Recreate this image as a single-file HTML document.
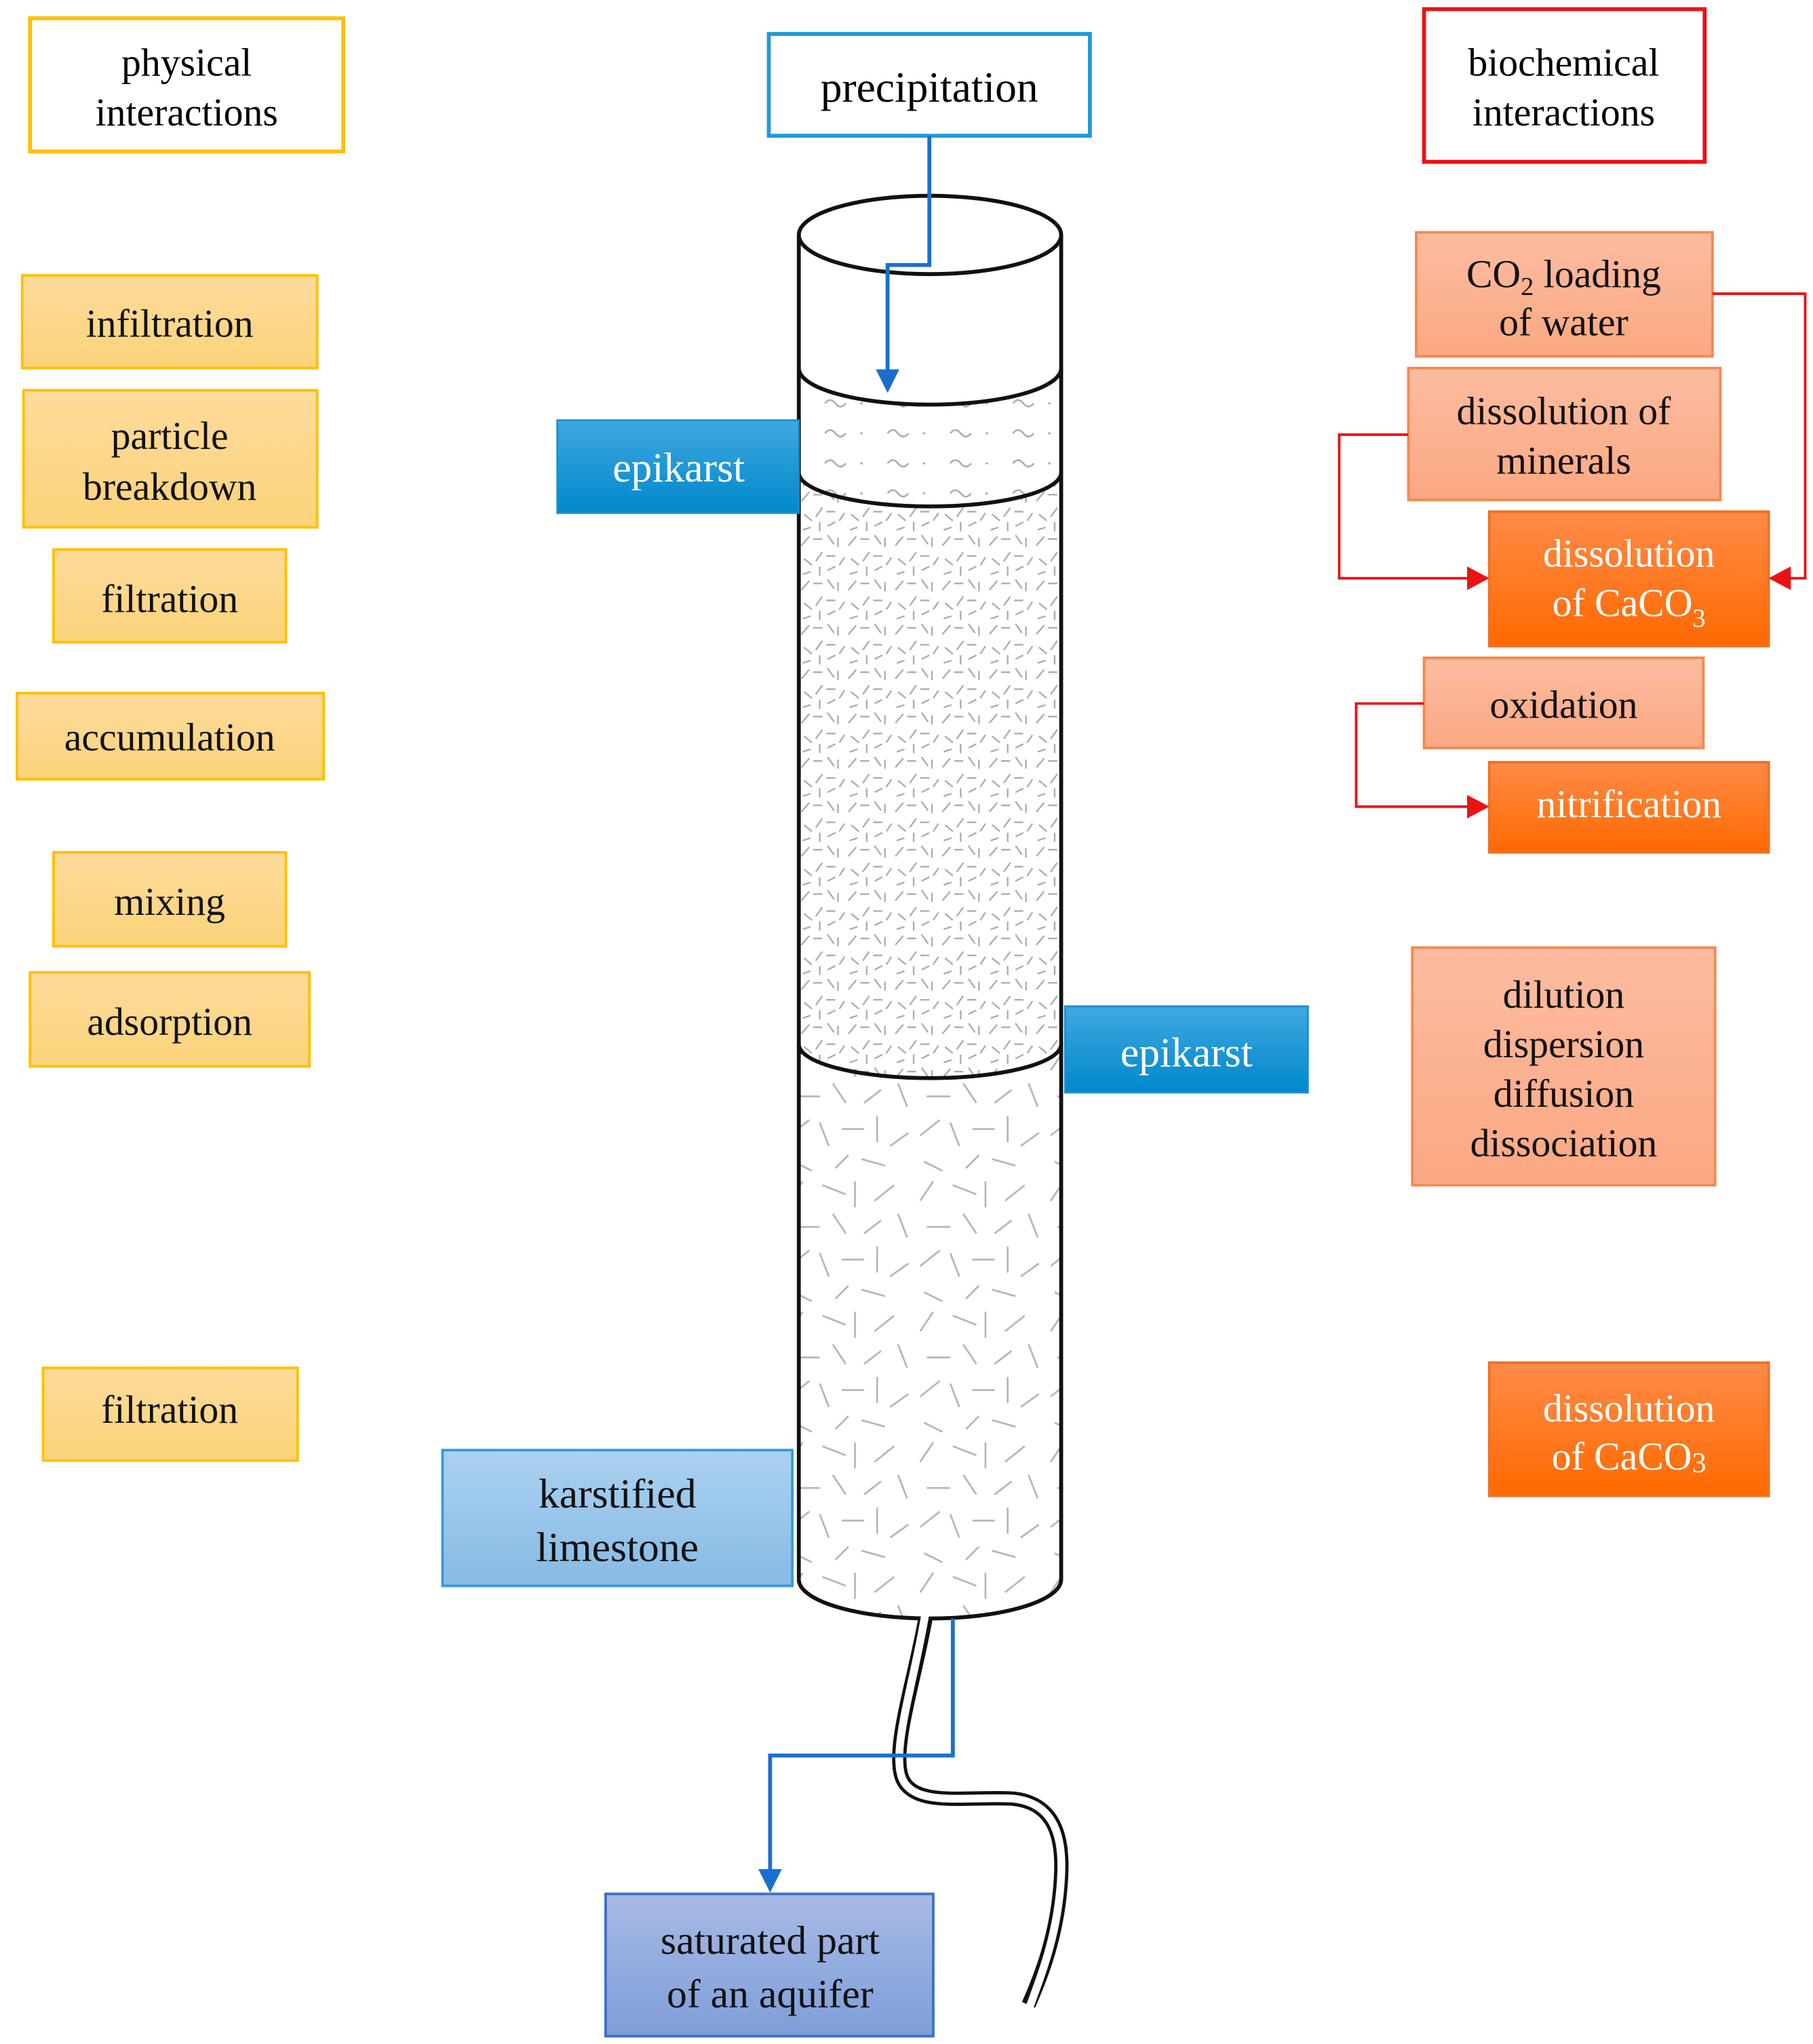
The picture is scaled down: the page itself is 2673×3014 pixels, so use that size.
<!DOCTYPE html>
<html><head><meta charset="utf-8"><style>
html,body{margin:0;padding:0;background:#fff}
svg{display:block}
text{font-family:"Liberation Serif",serif;text-anchor:middle}
</style></head><body>
<svg width="2673" height="3014" viewBox="0 0 1389 1566" preserveAspectRatio="none" xmlns="http://www.w3.org/2000/svg">
<defs>
<linearGradient id="gy" x1="0" y1="0" x2="0" y2="1"><stop offset="0" stop-color="#FDDB9C"/><stop offset="1" stop-color="#FCD379"/></linearGradient>
<linearGradient id="gs" x1="0" y1="0" x2="0" y2="1"><stop offset="0" stop-color="#FCBCA0"/><stop offset="1" stop-color="#FBA882"/></linearGradient>
<linearGradient id="go" x1="0" y1="0" x2="0" y2="1"><stop offset="0" stop-color="#FF8B48"/><stop offset="1" stop-color="#FF6900"/></linearGradient>
<linearGradient id="gb" x1="0" y1="0" x2="0" y2="1"><stop offset="0" stop-color="#40A8E0"/><stop offset="1" stop-color="#0088CC"/></linearGradient>
<linearGradient id="gk" x1="0" y1="0" x2="0" y2="1"><stop offset="0" stop-color="#AAD1EF"/><stop offset="1" stop-color="#86BBE5"/></linearGradient>
<linearGradient id="ga" x1="0" y1="0" x2="0" y2="1"><stop offset="0" stop-color="#A8BAE4"/><stop offset="1" stop-color="#7E9ED9"/></linearGradient>
<pattern id="pf" width="36" height="34" patternUnits="userSpaceOnUse">
<g stroke="#aaa" stroke-width="1.2" fill="none">
<line x1="2" y1="10" x2="8" y2="3"/><line x1="11" y1="5" x2="18" y2="5"/><line x1="22" y1="2" x2="27" y2="9"/><line x1="30" y1="4" x2="30" y2="11"/>
<line x1="4" y1="20" x2="10" y2="25"/><line x1="13" y1="22" x2="18" y2="15"/><line x1="21" y1="18" x2="28" y2="18"/><line x1="31" y1="25" x2="35" y2="19"/>
<line x1="3" y1="32" x2="9" y2="30"/><line x1="16" y1="26" x2="16" y2="33"/><line x1="22" y1="29" x2="28" y2="26"/>
</g></pattern>
<pattern id="pc" width="100" height="100" patternUnits="userSpaceOnUse">
<g stroke="#b5b5b5" stroke-width="1.4" fill="none">
<line x1="5" y1="20" x2="15" y2="5"/><line x1="30" y1="8" x2="48" y2="15"/><line x1="55" y1="5" x2="55" y2="25"/><line x1="70" y1="20" x2="85" y2="8"/>
<line x1="10" y1="40" x2="28" y2="40"/><line x1="38" y1="30" x2="48" y2="45"/><line x1="62" y1="45" x2="75" y2="35"/><line x1="88" y1="30" x2="95" y2="48"/>
<line x1="5" y1="70" x2="20" y2="58"/><line x1="28" y1="60" x2="35" y2="78"/><line x1="45" y1="65" x2="62" y2="65"/><line x1="72" y1="55" x2="72" y2="75"/><line x1="82" y1="78" x2="96" y2="68"/>
<line x1="8" y1="90" x2="22" y2="97"/><line x1="40" y1="95" x2="50" y2="85"/><line x1="60" y1="88" x2="78" y2="93"/>
</g></pattern>
<pattern id="pw" width="48" height="23" patternUnits="userSpaceOnUse">
<path d="M8,10 q4,-5 8,0 t8,0" stroke="#aaa" stroke-width="1.3" fill="none"/><circle cx="36" cy="10" r="0.9" fill="#aaa"/>
</pattern>
<marker id="ab" markerWidth="10" markerHeight="10" refX="5" refY="9" orient="auto" markerUnits="userSpaceOnUse"/>
</defs>

<!-- header boxes -->
<rect x="23" y="14" width="240" height="102" fill="#fff" stroke="#FFC000" stroke-width="3"/>
<text x="143" y="58" font-size="30">physical</text><text x="143" y="96" font-size="30">interactions</text>
<rect x="589" y="26" width="246" height="78" fill="#fff" stroke="#1E9BD7" stroke-width="3"/>
<text x="712" y="78" font-size="33">precipitation</text>
<rect x="1091" y="7" width="215" height="117" fill="#fff" stroke="#EE1111" stroke-width="3"/>
<text x="1198" y="58" font-size="30">biochemical</text><text x="1198" y="96" font-size="30">interactions</text>

<!-- yellow boxes -->
<g stroke="#FFC000" stroke-width="2" fill="url(#gy)">
<rect x="17" y="211" width="226" height="71"/>
<rect x="18" y="299" width="225" height="105"/>
<rect x="41" y="421" width="178" height="71"/>
<rect x="13" y="531" width="235" height="66"/>
<rect x="41" y="653" width="178" height="72"/>
<rect x="23" y="745" width="214" height="72"/>
<rect x="33" y="1048" width="195" height="71"/>
</g>
<g font-size="30" fill="#111">
<text x="130" y="258">infiltration</text>
<text x="130" y="344">particle</text><text x="130" y="383">breakdown</text>
<text x="130" y="469">filtration</text>
<text x="130" y="575">accumulation</text>
<text x="130" y="701">mixing</text>
<text x="130" y="793">adsorption</text>
<text x="130" y="1090">filtration</text>
</g>

<!-- salmon boxes -->
<g stroke="#F5894F" stroke-width="2" fill="url(#gs)">
<rect x="1085" y="178" width="227" height="95"/>
<rect x="1079" y="282" width="239" height="101"/>
<rect x="1091" y="504" width="214" height="69"/>
<rect x="1082" y="726" width="232" height="182"/>
</g>
<g font-size="30" fill="#111">
<text x="1198" y="220">CO<tspan font-size="20" dy="6">2</tspan><tspan dy="-6"> loading</tspan></text>
<text x="1198" y="257">of water</text>
<text x="1198" y="325">dissolution of</text><text x="1198" y="363">minerals</text>
<text x="1198" y="550">oxidation</text>
<text x="1198" y="772">dilution</text><text x="1198" y="810">dispersion</text><text x="1198" y="848">diffusion</text><text x="1198" y="886">dissociation</text>
</g>

<!-- orange boxes -->
<g stroke="#F07020" stroke-width="2" fill="url(#go)">
<rect x="1141" y="392" width="214" height="103"/>
<rect x="1141" y="584" width="214" height="69"/>
<rect x="1141" y="1044" width="214" height="102"/>
</g>
<g font-size="30" fill="#fff">
<text x="1248" y="434">dissolution</text><text x="1248" y="472">of CaCO<tspan font-size="20" dy="8">3</tspan></text>
<text x="1248" y="626">nitrification</text>
<text x="1248" y="1089">dissolution</text><text x="1248" y="1126">of CaCO<tspan font-size="22" dy="2">3</tspan></text>
</g>

<!-- red connectors -->
<g stroke="#EE1111" stroke-width="2" fill="none">
<polyline points="1312,225 1383,225 1383,443 1368,443"/>
<polyline points="1079,333 1026,333 1026,443 1128,443"/>
<polyline points="1091,539 1039,539 1039,618 1128,618"/>
</g>
<g fill="#EE1111">
<polygon points="1355,443 1372,434 1372,452"/>
<polygon points="1141,443 1124,434 1124,452"/>
<polygon points="1141,618 1124,609 1124,627"/>
</g>

<!-- cylinder -->
<path d="M612,1210 L612,800 A100,26 0 0 0 813,800 L813,1210 A100,30 0 0 1 612,1210Z" fill="url(#pc)"/>
<path d="M612,362 A100,26 0 0 0 813,362 L813,800 A100,26 0 0 1 612,800Z" fill="url(#pf)"/>
<path d="M612,282 A100,28 0 0 0 813,282 L813,362 A100,26 0 0 1 612,362Z" fill="url(#pw)"/>
<g stroke="#111" stroke-width="3" fill="none">
<ellipse cx="712.5" cy="180" rx="100.5" ry="30"/>
<line x1="612" y1="180" x2="612" y2="1210"/>
<line x1="813" y1="180" x2="813" y2="1210"/>
<path d="M612,282 A100.5,28 0 0 0 813,282"/>
<path d="M612,362 A100.5,26 0 0 0 813,362"/>
<path d="M612,800 A100.5,26 0 0 0 813,800"/>
<path d="M612,1210 A100.5,30 0 0 0 813,1210"/>
</g>

<!-- pipe -->
<path d="M709,1240 C700,1290 683,1340 691,1362 C700,1385 740,1376 776,1378 C815,1382 815,1420 812,1450 C808,1490 795,1520 788,1536" stroke="#111" stroke-width="11" fill="none"/>
<path d="M709,1236 C700,1290 683,1340 691,1362 C700,1385 740,1376 776,1378 C815,1382 815,1420 812,1450 C808,1490 795,1520 788,1540" stroke="#fff" stroke-width="6" fill="none"/>

<!-- blue connectors -->
<g stroke="#1A6FCE" stroke-width="3" fill="none">
<polyline points="712,104 712,203 680,203 680,286"/>
<polyline points="730,1240 730,1345 590,1345 590,1436"/>
</g>
<g fill="#1A6FCE">
<polygon points="680,301 671,283 689,283"/>
<polygon points="590,1450 581,1432 599,1432"/>
</g>

<!-- blue boxes -->
<rect x="427" y="322" width="185" height="71" fill="url(#gb)" stroke="#1A8FD0" stroke-width="1.5"/>
<text x="520" y="369" font-size="32" fill="#fff">epikarst</text>
<rect x="816" y="771" width="186" height="66" fill="url(#gb)" stroke="#1A8FD0" stroke-width="1.5"/>
<text x="909" y="817" font-size="32" fill="#fff">epikarst</text>
<rect x="339" y="1111" width="268" height="104" fill="url(#gk)" stroke="#3A9AD9" stroke-width="2"/>
<text x="473" y="1155" font-size="32" fill="#111">karstified</text><text x="473" y="1196" font-size="32" fill="#111">limestone</text>
<rect x="464" y="1451" width="251" height="109" fill="url(#ga)" stroke="#3F6FC8" stroke-width="2"/>
<text x="590" y="1497" font-size="31" fill="#111">saturated part</text><text x="590" y="1538" font-size="31" fill="#111">of an aquifer</text>
</svg>
</body></html>
